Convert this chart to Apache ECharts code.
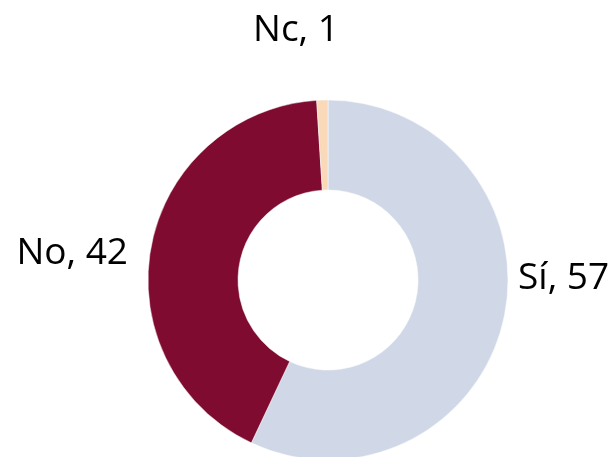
<!DOCTYPE html>
<html>
<head>
<meta charset="utf-8">
<script src="https://cdn.jsdelivr.net/npm/echarts@6/dist/echarts.min.js"></script>
<style>
  html, body { margin: 0; padding: 0; background: #fff; }
  #chart { width: 616px; height: 457px; }
</style>
</head>
<body>
<div id="chart"></div>
<script>
const categories = ['Sí', 'No', 'Nc']
const values = [57, 42, 1]
const colors = ['#D0D8E7', '#7F0C30', '#F9D9B8']

// where each label sits (text anchor), index matches categories
const labelSpots = [
  { x: 518, y: 278, align: 'left' },
  { x: 128, y: 253, align: 'right' },
  { x: 296, y: 30, align: 'center' }
]

const chart = echarts.init(document.getElementById('chart'))

const option = {
  backgroundColor: '#fff',
  animation: false,
  series: [{
    type: 'pie',
    center: [328, 280],
    radius: [90, 180],
    startAngle: 90,
    clockwise: true,
    avoidLabelOverlap: false,
    data: categories.map((name, i) => ({
      name: name,
      value: values[i],
      itemStyle: { color: colors[i] }
    })),
    itemStyle: {
      borderColor: '#fff',
      borderWidth: 0.5
    },
    label: {
      show: true,
      position: 'outside',
      formatter: '{b}, {c}',
      fontFamily: 'Open Sans',
      fontSize: 37,
      color: '#000'
    },
    labelLine: { show: false },
    labelLayout: function (params) {
      const s = labelSpots[params.dataIndex]
      return {
        x: s.x,
        y: s.y,
        align: s.align,
        verticalAlign: 'middle'
      }
    }
  }]
}

chart.setOption(option)
</script>
</body>
</html>
